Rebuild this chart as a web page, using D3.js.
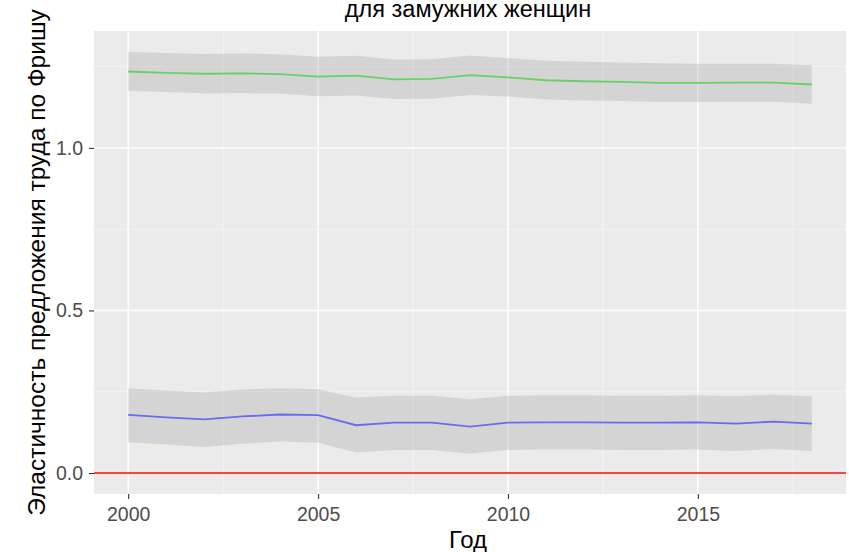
<!DOCTYPE html>
<html>
<head>
<meta charset="utf-8">
<script src="https://cdn.jsdelivr.net/npm/d3@7"></script>
<style>
  body { margin: 0; background: #fff; }
  text { font-family: "Liberation Sans", Arial, sans-serif; }
</style>
</head>
<body>
<svg id="chart" width="849" height="552"></svg>
<script>
const years = d3.range(2000, 2019);

// green series (upper group)
const greenMid = [1.235, 1.231, 1.228, 1.229, 1.227, 1.219, 1.222, 1.211, 1.212, 1.224,
  1.217, 1.208, 1.205, 1.203, 1.200, 1.200, 1.201, 1.201, 1.195];
const greenHi = [1.295, 1.292, 1.289, 1.290, 1.288, 1.280, 1.283, 1.272, 1.273, 1.284,
  1.276, 1.268, 1.265, 1.263, 1.260, 1.259, 1.259, 1.259, 1.254];
const greenLo = [1.176, 1.172, 1.168, 1.169, 1.167, 1.159, 1.161, 1.150, 1.151, 1.163,
  1.158, 1.149, 1.146, 1.144, 1.141, 1.141, 1.142, 1.142, 1.136];

// blue series (lower group)
const blueMid = [0.179, 0.171, 0.165, 0.174, 0.180, 0.178, 0.147, 0.155, 0.155, 0.143,
  0.155, 0.156, 0.156, 0.155, 0.155, 0.156, 0.152, 0.158, 0.152];
const blueHi = [0.261, 0.254, 0.248, 0.257, 0.261, 0.258, 0.232, 0.238, 0.238, 0.227,
  0.238, 0.239, 0.239, 0.238, 0.238, 0.239, 0.236, 0.241, 0.236];
const blueLo = [0.095, 0.088, 0.080, 0.090, 0.097, 0.093, 0.063, 0.071, 0.071, 0.060,
  0.071, 0.072, 0.072, 0.071, 0.071, 0.072, 0.068, 0.074, 0.068];

const refLine = 0;
const xTicks = [2000, 2005, 2010, 2015];
const xMinor = [2002.5, 2007.5, 2012.5, 2017.5];
const yTicks = [0, 0.5, 1.0];
const yMinor = [0.25, 0.75, 1.25];

const titleText = 'для замужних женщин';
const xTitle = 'Год';
const yTitle = 'Эластичность предложения труда по Фришу';

const panel = { left: 94, right: 846, top: 31, bottom: 494 };
const svg = d3.select('#chart');

const x = d3.scaleLinear().domain([1999.1, 2018.9]).range([panel.left, panel.right]);
const y = d3.scaleLinear().domain([-0.0645, 1.3595]).range([panel.bottom, panel.top]);

svg.append('rect')
  .attr('x', panel.left).attr('y', panel.top)
  .attr('width', panel.right - panel.left).attr('height', panel.bottom - panel.top)
  .attr('fill', '#ebebeb');

const grid = svg.append('g');
grid.selectAll('.vminor').data(xMinor).enter().append('line')
  .attr('x1', x).attr('x2', x).attr('y1', panel.top).attr('y2', panel.bottom)
  .attr('stroke', '#f6f6f6').attr('stroke-width', 0.7);
grid.selectAll('.hminor').data(yMinor).enter().append('line')
  .attr('y1', y).attr('y2', y).attr('x1', panel.left).attr('x2', panel.right)
  .attr('stroke', '#f6f6f6').attr('stroke-width', 0.7);
grid.selectAll('.vmajor').data(xTicks).enter().append('line')
  .attr('x1', x).attr('x2', x).attr('y1', panel.top).attr('y2', panel.bottom)
  .attr('stroke', '#fff').attr('stroke-width', 1.4);
grid.selectAll('.hmajor').data(yTicks).enter().append('line')
  .attr('y1', y).attr('y2', y).attr('x1', panel.left).attr('x2', panel.right)
  .attr('stroke', '#fff').attr('stroke-width', 1.4);

const area = (hi, lo) => d3.area()
  .x((d, i) => x(years[i]))
  .y0((d, i) => y(lo[i]))
  .y1((d, i) => y(hi[i]))(years);
const line = (vals) => d3.line()
  .x((d, i) => x(years[i]))
  .y((d) => y(d))(vals);

[[greenHi, greenLo], [blueHi, blueLo]].forEach(([hi, lo]) => {
  svg.append('path').attr('d', area(hi, lo))
    .attr('fill', '#999').attr('fill-opacity', 0.27);
});

svg.append('path').attr('d', line(greenMid))
  .attr('fill', 'none').attr('stroke', '#66d166').attr('stroke-width', 1.8);
svg.append('path').attr('d', line(blueMid))
  .attr('fill', 'none').attr('stroke', '#6a6aee').attr('stroke-width', 1.8);

svg.append('line')
  .attr('x1', panel.left).attr('x2', panel.right)
  .attr('y1', y(refLine)).attr('y2', y(refLine))
  .attr('stroke', '#f5473c').attr('stroke-width', 2);

// axes
const xAxis = svg.append('g')
  .attr('transform', `translate(0,${panel.bottom})`)
  .call(d3.axisBottom(x).tickValues(xTicks).tickFormat(d3.format('d')).tickSize(5).tickPadding(3));
const yAxis = svg.append('g')
  .attr('transform', `translate(${panel.left},0)`)
  .call(d3.axisLeft(y).tickValues(yTicks).tickFormat(d3.format('.1f')).tickSize(5).tickPadding(6));
[xAxis, yAxis].forEach((g) => {
  g.select('.domain').remove();
  g.selectAll('.tick line').attr('stroke', '#333').attr('stroke-width', 1.1);
  g.selectAll('.tick text').attr('fill', '#4d4d4d').style('font-size', '19.5px');
});
xAxis.selectAll('.tick text').attr('dy', '0.98em');

// title is partly clipped by the top edge in the source image
svg.append('text')
  .attr('x', 468).attr('y', 17)
  .attr('text-anchor', 'middle').style('font-size', '23.5px').attr('fill', '#000')
  .text(titleText);

svg.append('text')
  .attr('x', 468).attr('y', 548)
  .attr('text-anchor', 'middle').style('font-size', '24px').attr('fill', '#000')
  .text(xTitle);

svg.append('text')
  .attr('transform', `translate(45,${(panel.top + panel.bottom) / 2}) rotate(-90)`)
  .attr('text-anchor', 'middle').style('font-size', '24.5px').attr('fill', '#000')
  .text(yTitle);
</script>
</body>
</html>
